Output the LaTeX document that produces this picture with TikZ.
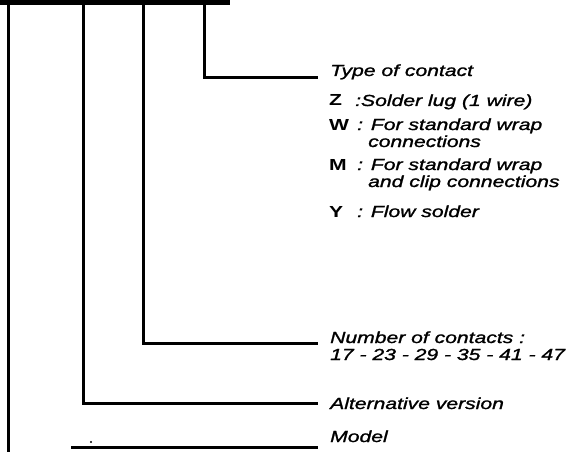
\documentclass[tikz,border=0pt]{standalone}
\usepackage{fontspec}
\setmainfont{Liberation Sans}[FakeStretch=1.32]
\newfontfamily\lblfont{Liberation Sans}[FakeStretch=1.32,FakeBold=1.4]
\begin{document}
\begin{tikzpicture}[x=1pt,y=-1pt,
  lead/.style={line width=3pt,line cap=rect},
  lbl/.style={anchor=base west,inner sep=0pt,font=\lblfont\fontsize{16}{18}\selectfont\itshape},
  key/.style={anchor=base west,inner sep=0pt,font=\fontsize{16}{18}\selectfont\bfseries}]
\useasboundingbox (0,0) rectangle (568,452);
% top bar
\fill (0,0) rectangle (230,5);
% coordinates
\coordinate (v1t) at (8,4);
\coordinate (v1b) at (8,452);
\coordinate (v2t) at (83,4);
\coordinate (v3t) at (143,4);
\coordinate (v4t) at (204,4);
\coordinate (e1) at (316,78);
\coordinate (e2) at (316,343);
\coordinate (e3) at (316,403);
\coordinate (e4s) at (72,447);
\coordinate (e4) at (316,447);
% leaders
\draw[lead] (v1t) -- (v1b);
\draw[lead] (v4t) |- (e1);
\draw[lead] (v3t) |- (e2);
\draw[lead] (v2t) |- (e3);
\draw[lead] (e4s) -- (e4);
\fill (91,442) circle (1.2pt);
% labels
\node[lbl] (type) at (330,76) {Type of contact};
\node[key] (kz) at (329,106) {Z};
\node[lbl] (tz) at (355,106) {:Solder lug (1 wire)};
\node[key] (kw) at (329,130) {W};
\node[lbl] (tw) at (357,130) {: For standard wrap};
\node[lbl] (tw2) at (368,147) {connections};
\node[key] (km) at (329,170) {M};
\node[lbl] (tm) at (357,170) {: For standard wrap};
\node[lbl] (tm2) at (368,187) {and clip connections};
\node[key] (ky) at (329,217) {Y};
\node[lbl] (ty) at (357,217) {: Flow solder};
\node[lbl] (num) at (330,343) {Number of contacts :};
\node[lbl] (num2) at (330,360) {17 - 23 - 29 - 35 - 41 - 47};
\node[lbl] (alt) at (330,409) {Alternative version};
\node[lbl] (mod) at (330,442) {Model};
\end{tikzpicture}
\end{document}
